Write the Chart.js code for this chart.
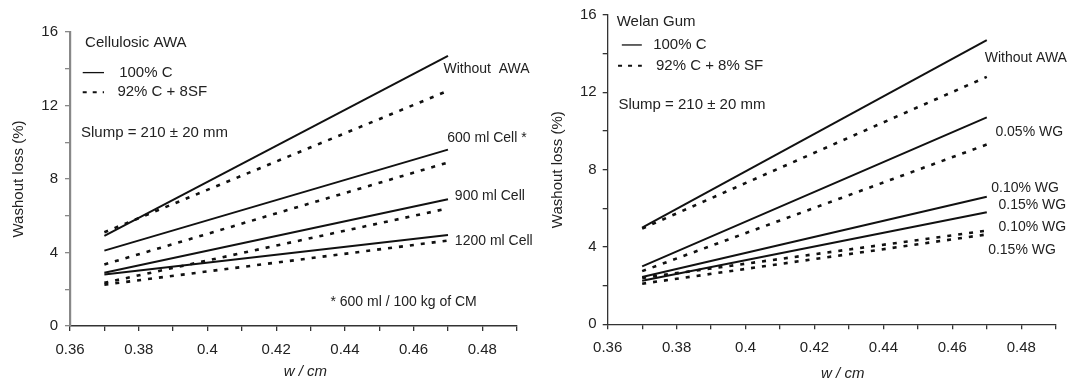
<!DOCTYPE html>
<html>
<head>
<meta charset="utf-8">
<script src="https://cdn.jsdelivr.net/npm/chart.js@4.4.1/dist/chart.umd.min.js"></script>
<style>
  html, body { margin: 0; padding: 0; background: #fff; }
  #wrap { position: relative; width: 1070px; height: 384px; }
  canvas { position: absolute; top: 0; }
  #c1 { left: 0; }
  #c2 { left: 535px; }
</style>
</head>
<body>
<div id="wrap">
  <canvas id="c1" width="535" height="384"></canvas>
  <canvas id="c2" width="535" height="384"></canvas>
</div>
<script>
// ---- data ----
const wcm = [0.37, 0.47];
const xTickLabels = ['0.36', '0.38', '0.4', '0.42', '0.44', '0.46', '0.48'];
const yTickLabels = ['0', '4', '8', '12', '16'];

// Cellulosic AWA (left)
const cellWithoutC = [4.9, 14.7];
const cellWithoutSF = [5.1, 12.8];
const cell600C = [4.1, 9.6];
const cell600SF = [3.35, 8.9];
const cell900C = [2.9, 6.9];
const cell900SF = [2.35, 6.4];
const cell1200C = [2.8, 4.95];
const cell1200SF = [2.25, 4.65];
const cellLabels = ['Without  AWA', '600 ml Cell *', '900 ml Cell', '1200 ml Cell'];

// Welan Gum (right)
const wgWithoutC = [5.0, 14.7];
const wgWithoutSF = [4.95, 12.8];
const wg005C = [3.0, 10.7];
const wg005SF = [2.75, 9.3];
const wg010C = [2.45, 6.6];
const wg015C = [2.25, 5.8];
const wg010SF = [2.4, 4.85];
const wg015SF = [2.1, 4.65];
const wgLabels = ['Without AWA', '0.05% WG', '0.10% WG', '0.15% WG', '0.10% WG', '0.15% WG'];

// ---- styling ----
const FONT = '"Liberation Sans", Arial, Helvetica, sans-serif';
const TXT = '#222';
Chart.defaults.font.family = FONT;
Chart.defaults.color = TXT;

function pts(ys) { return wcm.map((x, i) => ({ x: x, y: ys[i] })); }
function solid(name, ys) {
  return { label: name, data: pts(ys), borderColor: '#111', borderWidth: 2, pointRadius: 0, showLine: true, fill: false };
}
function dashed(name, ys) {
  return { label: name, data: pts(ys), borderColor: '#111', borderWidth: 2.6, borderDash: [4, 7], pointRadius: 0, showLine: true, fill: false };
}

// annotation plugin: texts / legend samples at data coordinates
const notes = {
  id: 'notes',
  afterDatasetsDraw(chart, args, opts) {
    const ctx = chart.ctx, xs = chart.scales.x, ys = chart.scales.y;
    ctx.save();
    ctx.fillStyle = TXT;
    ctx.textBaseline = 'middle';
    ctx.textAlign = 'left';
    (opts.texts || []).forEach(t => {
      ctx.font = (t.italic ? 'italic ' : '') + t.size + 'px ' + FONT;
      ctx.textAlign = t.align || 'left';
      const px = xs.getPixelForValue(t.x);
      const py = t.py !== undefined ? t.py : ys.getPixelForValue(t.y);
      ctx.fillText(t.text, px, py);
    });
    (opts.lines || []).forEach(l => {
      ctx.beginPath();
      ctx.strokeStyle = '#111';
      ctx.lineWidth = l.dash ? 2 : 1.3;
      ctx.setLineDash(l.dash ? [4, 6] : []);
      const y = ys.getPixelForValue(l.y);
      ctx.moveTo(xs.getPixelForValue(l.x0), y);
      ctx.lineTo(xs.getPixelForValue(l.x1), y);
      ctx.stroke();
    });
    ctx.restore();
  }
};

function makeOptions(cfg) {
  return {
    responsive: false,
    animation: false,
    devicePixelRatio: 1,
    layout: { padding: { left: 0, right: cfg.padRight, top: cfg.padTop, bottom: 0 } },
    plugins: {
      legend: { display: false },
      tooltip: { enabled: false },
      notes: { texts: cfg.texts, lines: cfg.lines }
    },
    scales: {
      x: {
        type: 'linear', min: 0.36, max: 0.49,
        afterFit(s) { s.height = cfg.xHeight; },
        ticks: {
          stepSize: 0.01, autoSkip: false, maxRotation: 0, padding: 10,
          font: { size: 15 }, color: TXT,
          callback(v) {
            const k = Math.round(v * 100);
            if (k % 2 !== 0) return '';
            const idx = (k - 36) / 2;
            return xTickLabels[idx] !== undefined ? xTickLabels[idx] : '';
          }
        },
        grid: { display: true, drawOnChartArea: false, drawTicks: true, tickLength: 5, color: cfg.xColor, lineWidth: 1.3 },
        border: { display: true, color: cfg.xColor, width: cfg.xBorder }
      },
      y: {
        type: 'linear', min: 0, max: 16,
        afterFit(s) { s.width = cfg.yWidth; },
        ticks: {
          stepSize: 2, autoSkip: false, padding: cfg.yPad,
          font: { size: 15 }, color: TXT,
          callback(v) {
            if (v % 4 !== 0) return '';
            return yTickLabels[v / 4];
          }
        },
        grid: { display: true, drawOnChartArea: false, drawTicks: true, tickLength: 5, color: cfg.yColor, lineWidth: 1.3 },
        border: { display: true, color: cfg.yColor, width: cfg.yBorder },
        title: { display: true, text: 'Washout loss (%)', font: { size: 15 }, color: TXT, padding: { top: cfg.yTitlePad, bottom: 0 } }
      }
    }
  };
}

// ---- left chart ----
new Chart(document.getElementById('c1'), {
  type: 'scatter',
  data: {
    datasets: [
      solid('100% C ' + cellLabels[0], cellWithoutC), dashed('92% C + 8SF ' + cellLabels[0], cellWithoutSF),
      solid('100% C ' + cellLabels[1], cell600C), dashed('92% C + 8SF ' + cellLabels[1], cell600SF),
      solid('100% C ' + cellLabels[2], cell900C), dashed('92% C + 8SF ' + cellLabels[2], cell900SF),
      solid('100% C ' + cellLabels[3], cell1200C), dashed('92% C + 8SF ' + cellLabels[3], cell1200SF)
    ]
  },
  options: makeOptions({
    padRight: 18.3, padTop: 32, xHeight: 58, yWidth: 70, yPad: 7, yTitlePad: 10,
    xColor: '#333', xBorder: 1.5, yColor: '#888', yBorder: 2.2,
    texts: [
      { text: 'Cellulosic AWA', x: 0.3644, y: 15.39, size: 15 },
      { text: '100% C', x: 0.3743, y: 13.79, size: 15 },
      { text: '92% C + 8SF', x: 0.3738, y: 12.72, size: 15 },
      { text: 'Slump = 210 ± 20 mm', x: 0.3632, y: 10.52, size: 15 },
      { text: cellLabels[0], x: 0.4687, y: 13.97, size: 14 },
      { text: cellLabels[1], x: 0.4698, y: 10.25, size: 14 },
      { text: cellLabels[2], x: 0.4720, y: 7.04, size: 14 },
      { text: cellLabels[3], x: 0.4720, y: 4.63, size: 14 },
      { text: '* 600 ml / 100 kg of CM', x: 0.4358, y: 1.32, size: 14 },
      { text: 'w / cm', x: 0.4285, py: 372, size: 15, italic: true, align: 'center' }
    ],
    lines: [
      { x0: 0.3637, x1: 0.3699, y: 13.79, dash: false },
      { x0: 0.3637, x1: 0.3699, y: 12.72, dash: true }
    ]
  }),
  plugins: [notes]
});

// ---- right chart ----
new Chart(document.getElementById('c2'), {
  type: 'scatter',
  data: {
    datasets: [
      solid('100% C ' + wgLabels[0], wgWithoutC), dashed('92% C + 8% SF ' + wgLabels[0], wgWithoutSF),
      solid('100% C ' + wgLabels[1], wg005C), dashed('92% C + 8% SF ' + wgLabels[1], wg005SF),
      solid('100% C ' + wgLabels[2], wg010C), solid('100% C ' + wgLabels[3], wg015C),
      dashed('92% C + 8% SF ' + wgLabels[4], wg010SF), dashed('92% C + 8% SF ' + wgLabels[5], wg015SF)
    ]
  },
  options: makeOptions({
    padRight: 14.3, padTop: 13.3, xHeight: 59.7, yWidth: 72.7, yPad: 6, yTitlePad: 14,
    xColor: '#333', xBorder: 1.3, yColor: '#333', yBorder: 1.3,
    texts: [
      { text: 'Welan Gum', x: 0.3626, y: 15.65, size: 15 },
      { text: '100% C', x: 0.3732, y: 14.45, size: 15 },
      { text: '92% C + 8% SF', x: 0.3740, y: 13.37, size: 15 },
      { text: 'Slump = 210 ± 20 mm', x: 0.3631, y: 11.33, size: 15 },
      { text: wgLabels[0], x: 0.4694, y: 13.77, size: 14 },
      { text: wgLabels[1], x: 0.4725, y: 9.96, size: 14 },
      { text: wgLabels[2], x: 0.4713, y: 7.04, size: 14 },
      { text: wgLabels[3], x: 0.4734, y: 6.14, size: 14 },
      { text: wgLabels[4], x: 0.4734, y: 5.02, size: 14 },
      { text: wgLabels[5], x: 0.4704, y: 3.86, size: 14 },
      { text: 'w / cm', x: 0.4282, py: 374, size: 15, italic: true, align: 'center' }
    ],
    lines: [
      { x0: 0.3641, x1: 0.3699, y: 14.45, dash: false },
      { x0: 0.3630, x1: 0.3699, y: 13.37, dash: true }
    ]
  }),
  plugins: [notes]
});
</script>
</body>
</html>
